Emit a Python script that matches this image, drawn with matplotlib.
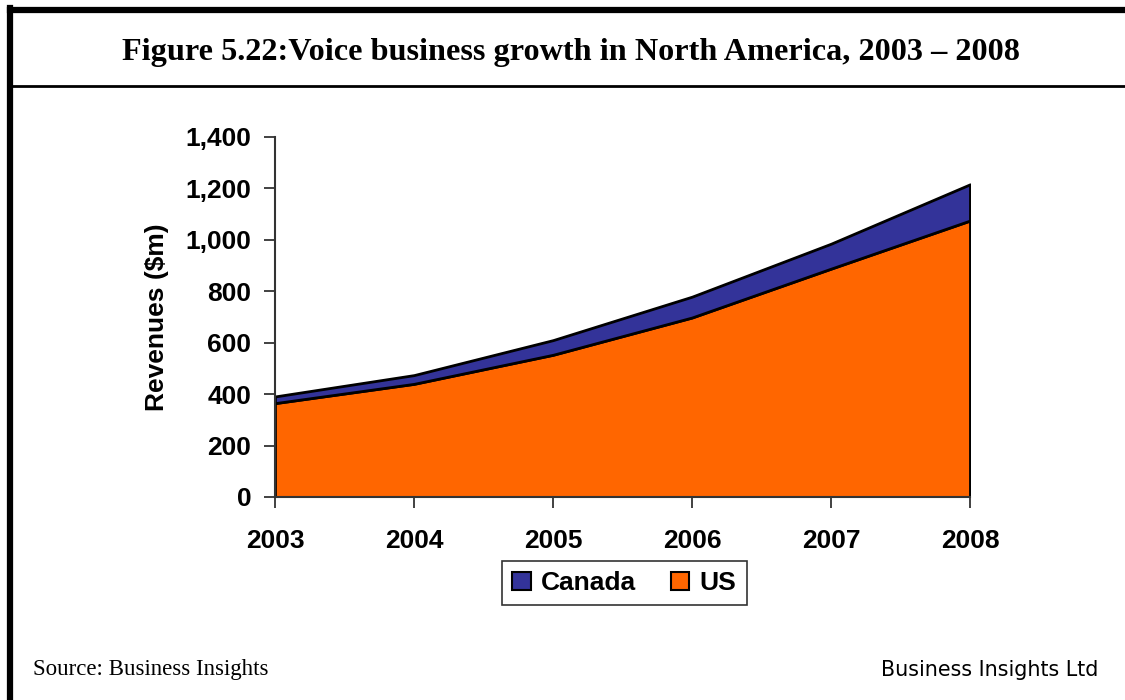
import numpy as np
import matplotlib.pyplot as plt
from matplotlib.patches import Patch
from matplotlib.lines import Line2D

# Ingresos de voz por país (millones de USD)
anios = [2003, 2004, 2005, 2006, 2007, 2008]
us = [365, 440, 553, 698, 888, 1075]
canada = [26, 34, 57, 81, 97, 141]

naranja = '#FF6600'
azul = '#333399'

fig = plt.figure(figsize=(11.25, 7), dpi=100)

# Marco de la figura: borde superior, izquierdo y línea bajo el título
fig.add_artist(Line2D([0.0085, 1.0], [0.9857, 0.9857], color='black', lw=4.5, transform=fig.transFigure))
fig.add_artist(Line2D([0.0085, 0.0085], [0.0, 0.9885], color='black', lw=4.5, transform=fig.transFigure))
fig.add_artist(Line2D([0.0085, 1.0], [0.8771, 0.8771], color='black', lw=2, transform=fig.transFigure))

fig.text(0.5075, 0.925, 'Figure 5.22:Voice business growth in North America, 2003 \u2013 2008',
         ha='center', va='center', fontsize=23.2, fontweight='bold', family='Liberation Serif')

ax = fig.add_axes([0.2444, 0.29, 0.6178, 0.5143])
ax.stackplot(anios, us, canada, colors=[naranja, azul], edgecolor='black', linewidth=2)

ax.set_xlim(2003, 2008)
ax.set_ylim(0, 1400)
ax.set_xticks(anios)
ax.set_yticks(np.arange(0, 1401, 200))
ax.set_yticklabels([f'{v:,}' for v in range(0, 1401, 200)])

for s in ['top', 'right']:
    ax.spines[s].set_visible(False)
for s in ['left', 'bottom']:
    ax.spines[s].set_color('#333333')
    ax.spines[s].set_linewidth(1.5)

ax.tick_params(axis='both', direction='out', length=8, width=1.3, color='#333333')
ax.tick_params(axis='x', pad=15)
ax.tick_params(axis='y', pad=9)
for lab in ax.get_xticklabels() + ax.get_yticklabels():
    lab.set_fontsize(19)
    lab.set_fontweight('bold')
    lab.set_family('Liberation Sans')

ax.set_ylabel('Revenues ($m)', fontsize=19, fontweight='bold', family='Liberation Sans', labelpad=12)

handles = [Patch(facecolor=azul, edgecolor='black', lw=1.5),
           Patch(facecolor=naranja, edgecolor='black', lw=1.5)]
leg = fig.legend(handles, ['Canada', 'US'], loc='center', bbox_to_anchor=(0.555, 0.167),
                 ncol=2, frameon=True, fancybox=False, handlelength=0.7, handleheight=0.7,
                 handletextpad=0.4, columnspacing=1.3, borderpad=0.38,
                 prop={'family': 'Liberation Sans', 'weight': 'bold', 'size': 19})
leg.get_frame().set_edgecolor('black')
leg.get_frame().set_linewidth(1.2)

fig.text(0.029, 0.043, 'Source: Business Insights', fontsize=16.5, family='Liberation Serif',
         ha='left', va='center')
fig.text(0.976, 0.043, 'Business Insights Ltd', fontsize=14.9,
         family=['Liberation Sans Narrow', 'DejaVu Sans'], ha='right', va='center')

plt.savefig('out.png', dpi=100)
